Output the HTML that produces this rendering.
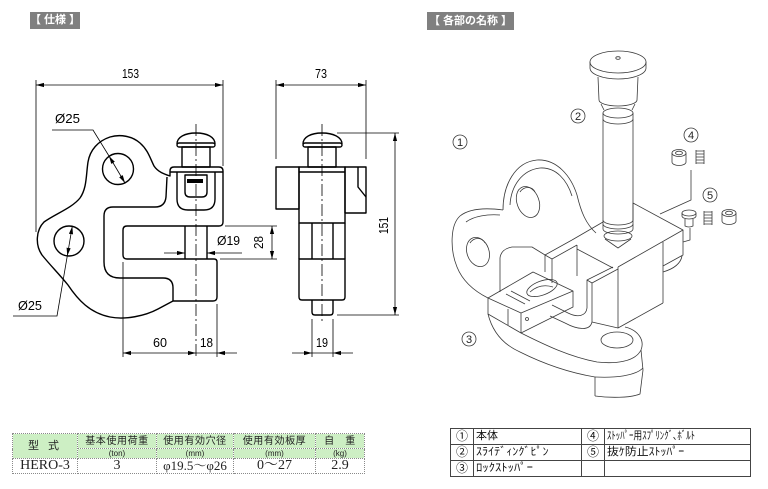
<!DOCTYPE html>
<html><head><meta charset="utf-8">
<style>
html,body{margin:0;padding:0;background:#fff;}
body{width:768px;height:489px;position:relative;overflow:hidden;font-family:"Liberation Sans","Noto Sans CJK JP",sans-serif;}
.hd{position:absolute;background:#808080;color:#fff;font-size:11px;line-height:17px;height:17px;text-align:center;white-space:nowrap;font-weight:bold;}
table{border-collapse:collapse;table-layout:fixed;position:absolute;}
.t1 td{border:1px dotted #8a8a8a;padding:0;text-align:center;white-space:nowrap;overflow:hidden;color:#222;}
.t1 .g{background:#cdefc4;}
.t1 .h{font-size:10px;letter-spacing:0.6px;line-height:13px;}
.t1 .u{font-size:8px;line-height:9px;}
.t1 .d{font-family:"Liberation Serif","Noto Serif CJK SC",serif;font-size:14px;line-height:14px;}
.t2 td{border:1px solid #444;padding:0 0 0 2px;white-space:nowrap;overflow:hidden;font-size:11px;line-height:15px;color:#111;}
.t2 td.c{text-align:center;padding:0;font-size:12px;}
.sx{display:inline-block;transform-origin:0 50%;}
</style></head>
<body>
<div class="hd" style="left:30px;top:12px;width:50px;">【 仕様 】</div>
<div class="hd" style="left:427px;top:12px;width:87px;height:18px;line-height:18px;">【 各部の名称 】</div>

<svg width="768" height="489" viewBox="0 0 768 489" style="position:absolute;left:0;top:0" xmlns="http://www.w3.org/2000/svg">
<defs>
<marker id="ar" viewBox="0 0 10 6" refX="10" refY="3" markerWidth="8" markerHeight="4.8" markerUnits="userSpaceOnUse" orient="auto-start-reverse">
<path d="M0,0.4 L10,3 L0,5.6 Z" fill="#000"/>
</marker>
</defs>

<!-- ============ LEFT VIEW ============ -->
<g stroke="#000" stroke-width="1.4" fill="none" stroke-linejoin="round">
<path d="M170,176 C164,174 158,172 154,166 C150,158 148,150 140,143 C132,136 120,134 110,137 C98,141 90,150 88,162 C86,175 87,188 80,198 C72,208 55,214 44,222 C36,230 35,245 42,255 C50,265 60,275 68,285 C78,300 90,313 110,317 C125,320 145,316 158,309 L173,301 L213,301 Q217,301 217,297 L217,262 Q217,259 214,259 L127,259 Q123,259 123,255 L123,230 Q123,226 127,226 L219,226 Q223,226 223,222 L223,171 Q223,167 219,167 L174,167 Q170,167 170,171 Z"/>
<path d="M167,177 L166,197 Q165,207 155,207 L113,207 Q104,207 104,216 L104,262 Q104,278 120,278 L163,278 Q173,278 173,288 L173,301"/>
<line x1="170" y1="172" x2="223" y2="172"/>
<path d="M177,172 L177,199 Q177,210 188,210 L204,210 Q215,210 215,199 L215,172"/>
<path d="M185,175 L185,192 Q185,197 190,197 L202,197 Q207,197 207,192 L207,175 Z"/>
<circle cx="118" cy="169" r="15.5"/>
<circle cx="69" cy="241" r="15"/>
<path d="M177,144 C177,137 185,133 196,133 C207,133 215,137 215,144"/>
<rect x="177" y="143" width="38" height="4" rx="2"/>
<rect x="182" y="147" width="28" height="20"/>
<line x1="185" y1="226" x2="185" y2="259"/>
<line x1="207" y1="226" x2="207" y2="259"/>
</g>
<rect x="187" y="179" width="16" height="4" fill="#000"/>

<!-- ============ MIDDLE VIEW ============ -->
<g stroke="#000" stroke-width="1.4" fill="none" stroke-linejoin="round">
<path d="M303,144 C303,137 311,133 322,133 C333,133 342,137 342,144"/>
<rect x="303" y="143" width="39" height="4" rx="2"/>
<rect x="308" y="147" width="28" height="20"/>
<rect x="299" y="167" width="46" height="56"/>
<line x1="299" y1="172" x2="345" y2="172"/>
<rect x="276" y="167" width="23" height="42"/>
<rect x="345" y="167" width="21" height="46"/>
<path d="M358,167 L358,187 L366,197"/>
<line x1="299" y1="223" x2="299" y2="259"/>
<line x1="345" y1="223" x2="345" y2="259"/>
<line x1="312" y1="223" x2="312" y2="259"/>
<line x1="333" y1="223" x2="333" y2="259"/>
<path d="M299,259 L345,259 L345,297 Q345,300 342,300 L302,300 Q299,300 299,297 Z"/>
<path d="M312,300 L312,312 Q312,315 315,315 L330,315 Q333,315 333,312 L333,300"/>
</g>

<!-- center lines -->
<g stroke="#000" stroke-width="0.8" stroke-dasharray="12 3 2 3" fill="none">
<line x1="196" y1="124" x2="196" y2="357"/>
<line x1="322" y1="124" x2="322" y2="322"/>
</g>

<!-- dimension & extension lines -->
<g stroke="#000" stroke-width="0.8" fill="none">
<line x1="36" y1="80" x2="36" y2="232"/>
<line x1="223" y1="80" x2="223" y2="166"/>
<line x1="36" y1="85" x2="223" y2="85" marker-start="url(#ar)" marker-end="url(#ar)"/>
<line x1="276" y1="80" x2="276" y2="159"/>
<line x1="366" y1="80" x2="366" y2="159"/>
<line x1="276" y1="85" x2="366" y2="85" marker-start="url(#ar)" marker-end="url(#ar)"/>
<line x1="337" y1="133" x2="399" y2="133"/>
<line x1="337" y1="315" x2="399" y2="315"/>
<line x1="395" y1="133" x2="395" y2="315" marker-start="url(#ar)" marker-end="url(#ar)"/>
<line x1="225" y1="226" x2="277" y2="226"/>
<line x1="220" y1="259" x2="277" y2="259"/>
<line x1="272" y1="226" x2="272" y2="259" marker-start="url(#ar)" marker-end="url(#ar)"/>
<line x1="164" y1="253" x2="185" y2="253" marker-end="url(#ar)"/>
<line x1="242" y1="253" x2="207" y2="253" marker-end="url(#ar)"/>
<line x1="123" y1="262" x2="123" y2="357"/>
<line x1="217" y1="304" x2="217" y2="357"/>
<line x1="123" y1="353" x2="196" y2="353" marker-start="url(#ar)" marker-end="url(#ar)"/>
<line x1="196" y1="353" x2="217" y2="353"/>
<line x1="237" y1="353" x2="217" y2="353" marker-end="url(#ar)"/>
<line x1="312" y1="319" x2="312" y2="357"/>
<line x1="333" y1="319" x2="333" y2="357"/>
<line x1="292" y1="353" x2="312" y2="353" marker-end="url(#ar)"/>
<line x1="312" y1="353" x2="333" y2="353"/>
<line x1="353" y1="353" x2="333" y2="353" marker-end="url(#ar)"/>
<!-- diameter leaders -->
<path d="M52,130 L93,130 L109,156"/>
<line x1="109" y1="156" x2="125" y2="183" marker-start="url(#ar)" marker-end="url(#ar)"/>
<path d="M13,316 L57,316 L67.3,255.8"/>
<line x1="67.3" y1="255.8" x2="72.3" y2="226.2" marker-start="url(#ar)" marker-end="url(#ar)"/>
</g>

<!-- dimension text -->
<g font-family="'Liberation Sans Narrow','Liberation Sans',sans-serif" font-size="13" fill="#000">
<text x="122" y="78" textLength="17" lengthAdjust="spacingAndGlyphs">153</text>
<text x="315" y="78" textLength="12" lengthAdjust="spacingAndGlyphs">73</text>
<text x="55" y="123" textLength="25" lengthAdjust="spacingAndGlyphs">Ø25</text>
<text x="18" y="310" textLength="24" lengthAdjust="spacingAndGlyphs">Ø25</text>
<text x="217" y="245" textLength="23" lengthAdjust="spacingAndGlyphs">Ø19</text>
<text x="153" y="347" textLength="14" lengthAdjust="spacingAndGlyphs">60</text>
<text x="200" y="347" textLength="13" lengthAdjust="spacingAndGlyphs">18</text>
<text x="316" y="347" textLength="12" lengthAdjust="spacingAndGlyphs">19</text>
<text transform="translate(263,249) rotate(-90)" textLength="13" lengthAdjust="spacingAndGlyphs">28</text>
<text transform="translate(388,234) rotate(-90)" textLength="17" lengthAdjust="spacingAndGlyphs">151</text>
</g>

<!-- ============ ISOMETRIC VIEW ============ -->
<g stroke="#3a3a3a" stroke-width="0.8" fill="none" stroke-linejoin="round">
<!-- pin -->
<ellipse cx="618" cy="62" rx="28" ry="11"/>
<path d="M590,62 L590,68 A28,11 0 0 0 646,68 L646,62"/>
<ellipse cx="618" cy="58" rx="2.2" ry="1.3"/>
<path d="M598,77 L599,100 A19,6 0 0 0 637,100 L638,77"/>
<path d="M601,104 L604,110 M635,104 L632,110"/>
<ellipse cx="618" cy="113" rx="15" ry="5"/>
<path d="M603,113 L603,119 A15,5 0 0 0 633,119 L633,113"/>
<line x1="603" y1="119" x2="603" y2="220"/>
<line x1="633" y1="119" x2="633" y2="220"/>
<path d="M603,220 A15,5 0 0 0 633,220"/>
<path d="M603,224 A15,5 0 0 0 633,224"/>
<path d="M603,220 L603,229 A15,5 0 0 0 633,229 L633,220"/>
<ellipse cx="618" cy="236" rx="14" ry="5"/>
<path d="M605,239 L618,248 L631,239"/>

<!-- block -->
<path d="M572,240 L603,222 M633,220 L633,203 L683,230 L618,267"/>
<path d="M683,230 L683,255 L663,266"/>
<line x1="663" y1="242" x2="663" y2="303"/>
<path d="M618,267 L618,328 L663,303"/>
<path d="M663,272 Q680,267 682,256"/>
<!-- channel -->
<path d="M545,272 L545,255 L572,240"/>
<path d="M545,255 L552,259 L577,245"/>
<line x1="552" y1="259" x2="552" y2="283"/>
<line x1="577" y1="245" x2="577" y2="276"/>
<line x1="577" y1="249" x2="613" y2="268"/>
<path d="M587,308 L587,280 L613,267"/>
<path d="M587,280 L592,283 L618,269"/>
<path d="M592,283 L592,322 L618,328"/>
<path d="M587,308 C586,316 578,318 568,313 L552,305"/>
<path d="M592,322 C590,331 578,330 565,323 L550,316"/>

<!-- upper body lobes -->
<path d="M500,292 L500,258 Q501,249 512,247 L532,247 L545,255"/>
<path d="M503,210 C503,185 515,162 537,160 C557,159 571,176 577,195 C581,212 586,224 596,233"/>
<path d="M510,205 C511,186 522,170 540,168 C556,167 567,180 572,196"/>
<path d="M503,210 C488,208 470,208 460,216 C450,225 450,250 457,267 C463,282 476,292 488,298"/>
<path d="M466,222 C474,216 488,214 500,215"/>
<ellipse cx="528" cy="202" rx="11" ry="16" transform="rotate(-20 528 202)"/>
<path d="M520,192 C524,186 532,186 535,192" />
<ellipse cx="478" cy="252" rx="11" ry="15" transform="rotate(-20 478 252)"/>
<path d="M470,243 C474,237 482,237 485,243"/>

<!-- lock stopper -->
<path d="M488,298 L533,272 L573,291 L521,313 Z"/>
<path d="M488,298 L488,314 L521,333 L521,313"/>
<path d="M521,333 L573,307 L573,291"/>
<ellipse cx="542" cy="288" rx="16" ry="7" transform="rotate(-20 542 288)"/>
<path d="M530,292 Q540,283 553,287"/>
<path d="M506,294 L525,304 M511,291 L530,301"/>
<circle cx="527" cy="319" r="1.5"/>
<line x1="508" y1="309" x2="508" y2="325"/>

<!-- lower body -->
<path d="M488,314 C492,330 502,344 520,352 C540,362 565,372 595,377 L595,396"/>
<path d="M595,396 C610,398 630,398 640,394 L643,370"/>
<path d="M521,333 C545,345 570,357 597,362 C615,364 635,362 641,350 C645,340 638,330 625,327"/>
<path d="M641,350 L643,370"/>
<path d="M595,377 C615,378 635,376 643,368"/>
<ellipse cx="617" cy="340" rx="16" ry="8"/>

<!-- leader lines -->
<path d="M691,170 L691,200 L660,214"/>
<path d="M690,228 L690,240 L683,242"/>

<!-- part 4 -->
<ellipse cx="679" cy="153" rx="7" ry="3.5"/>
<ellipse cx="679" cy="153" rx="3.5" ry="1.8"/>
<path d="M672,153 L672,162 A7,3.5 0 0 0 686,162 L686,153"/>
<path d="M696,151 L704,151 M696,154 L704,154 M696,157 L704,157 M696,160 L704,160 M696,163 L704,163"/>
<path d="M696,150 L696,164 M704,150 L704,164"/>
<!-- part 5 -->
<ellipse cx="689" cy="213" rx="7" ry="3"/>
<path d="M682,213 L682,216 A7,3 0 0 0 696,216 L696,213"/>
<path d="M685,219 L685,226 Q689,228 693,226 L693,219"/>
<path d="M704,212 L712,212 M704,215 L712,215 M704,218 L712,218 M704,221 L712,221 M704,224 L712,224"/>
<path d="M704,211 L704,225 M712,211 L712,225"/>
<ellipse cx="729" cy="213" rx="7" ry="3.5"/>
<ellipse cx="729" cy="213" rx="3.5" ry="1.8"/>
<path d="M722,213 L722,221 A7,3.5 0 0 0 736,221 L736,213"/>

<!-- circled numbers -->
<circle cx="460" cy="142" r="7"/>
<circle cx="578" cy="116" r="7"/>
<circle cx="469" cy="339" r="7"/>
<circle cx="691" cy="135" r="7"/>
<circle cx="710" cy="195" r="7"/>
</g>
<g font-family="'Liberation Sans',sans-serif" font-size="11" fill="#222" text-anchor="middle">
<text x="460" y="146">1</text>
<text x="578" y="120">2</text>
<text x="469" y="343">3</text>
<text x="691" y="139">4</text>
<text x="710" y="199">5</text>
</g>
</svg>

<!-- spec table -->
<table class="t1" style="left:12px;top:433px;width:352px;">
<colgroup><col style="width:65px"><col style="width:79px"><col style="width:77px"><col style="width:82px"><col style="width:49px"></colgroup>
<tr style="height:15px"><td rowspan="2" class="g h" style="font-size:11px;letter-spacing:3px">型 式</td><td class="g h">基本使用荷重</td><td class="g h">使用有効穴径</td><td class="g h">使用有効板厚</td><td class="g h">自　重</td></tr>
<tr style="height:10px"><td class="g u">(ton)</td><td class="g u">(mm)</td><td class="g u">(mm)</td><td class="g u">(kg)</td></tr>
<tr style="height:15px"><td class="d">HERO-3</td><td class="d">3</td><td class="d" style="font-size:13px">φ19.5～φ26</td><td class="d">0～27</td><td class="d">2.9</td></tr>
</table>

<!-- parts table -->
<table class="t2" style="left:450px;top:428px;width:300px;">
<colgroup><col style="width:23px"><col style="width:108px"><col style="width:23px"><col style="width:146px"></colgroup>
<tr style="height:16px"><td class="c">①</td><td>本体</td><td class="c">④</td><td><span class="sx" style="transform:scaleX(0.8)">ｽﾄｯﾊﾟｰ用ｽﾌﾟﾘﾝｸﾞ､ﾎﾞﾙﾄ</span></td></tr>
<tr style="height:16px"><td class="c">②</td><td><span class="sx" style="transform:scaleX(1.1)">ｽﾗｲﾃﾞｨﾝｸﾞﾋﾟﾝ</span></td><td class="c">⑤</td><td><span class="sx" style="transform:scaleX(1.08)">抜ｹ防止ｽﾄｯﾊﾟｰ</span></td></tr>
<tr style="height:16px"><td class="c">③</td><td><span class="sx" style="transform:scaleX(1.15)">ﾛｯｸｽﾄｯﾊﾟｰ</span></td><td></td><td></td></tr>
</table>
</body></html>
